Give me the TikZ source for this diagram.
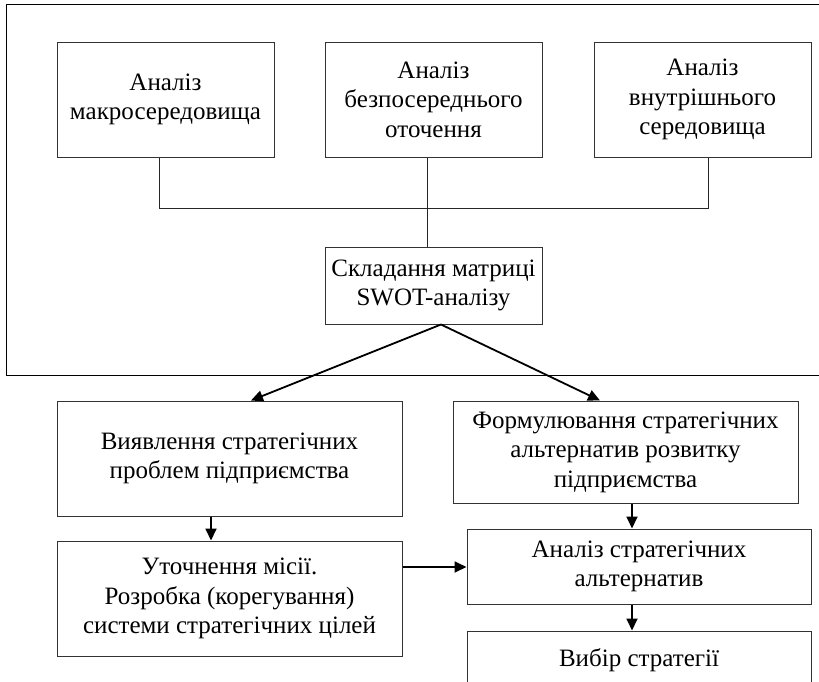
\documentclass[tikz,border=0pt]{standalone}
\usepackage{fontspec}
\setmainfont{Liberation Serif}
\usetikzlibrary{arrows.meta}
\begin{document}
\begin{tikzpicture}[x=1pt,y=-1pt,
  box/.style={draw=black!80, line width=1pt, align=center, inner sep=0pt,
    font=\fontsize{25}{29.5}\selectfont},
  tree/.style={draw=black!85, line width=0.9pt},
  flow/.style={draw=black, line width=1.8pt,
    -{Triangle[length=12pt,width=11pt]}},
  frameline/.style={draw=black, line width=1pt}]
\useasboundingbox (0,0) rectangle (819,681);

% outer frame of the analysis stage (open on the right)
\draw[frameline] (819,4) -- (6,4) -- (6,375) -- (819,375);

% environment analysis
\node[box, minimum width=217pt, minimum height=115pt] (A) at (165.5,99.5)
  {Аналіз\\макросередовища};
\node[box, minimum width=217pt, minimum height=115pt] (B) at (433.5,99.5)
  {Аналіз\\безпосереднього\\оточення};
\node[box, minimum width=217pt, minimum height=115pt] (C) at (702.5,99.5)
  {Аналіз\\внутрішнього\\середовища};

% SWOT
\node[box, minimum width=217pt, minimum height=77pt] (S) at (433.5,285.5)
  {Складання матриці\\SWOT-аналізу};

% lower stage
\node[box, minimum width=345pt, minimum height=115pt] (D) at (229.5,458.5)
  {Виявлення стратегічних\\проблем підприємства};
\node[box, minimum width=345pt, minimum height=102pt] (E) at (625.5,452)
  {Формулювання стратегічних\\альтернатив розвитку\\підприємства};
\node[box, minimum width=345pt, minimum height=115pt] (F) at (229.5,598.5)
  {Уточнення місії.\\Розробка (корегування)\\системи стратегічних цілей};
\node[box, minimum width=344pt, minimum height=75pt] (G) at (639,566.5)
  {Аналіз стратегічних\\альтернатив};
\node[box, minimum width=344pt, minimum height=58pt] (H) at (639,660)
  {Вибір стратегії};

% joining lines of the three analyses
\draw[tree] ([xshift=-6.5pt]A.south) -- ++(0,51) -| ([xshift=6pt]C.south);
\draw[tree] ([xshift=-6.5pt]B.south) -- ([xshift=-6.5pt]S.north);

% arrows
\draw[flow] ([xshift=7.5pt]S.south) -- ([xshift=21.5pt]D.north);
\draw[flow] ([xshift=7.5pt]S.south) -- ([xshift=-25.5pt]E.north);
\draw[flow] ([xshift=-18.5pt]D.south) -- ([xshift=-18.5pt]F.north);
\draw[flow] ([xshift=-7pt]G.north |- E.south) -- ([xshift=-7pt]G.north);
\draw[flow] ([xshift=-7pt]G.south) -- ([xshift=-7pt]H.north);
\draw[flow] ([yshift=31.5pt]F.east) -- ([yshift=31.5pt]F.east -| G.west);
\end{tikzpicture}
\end{document}
